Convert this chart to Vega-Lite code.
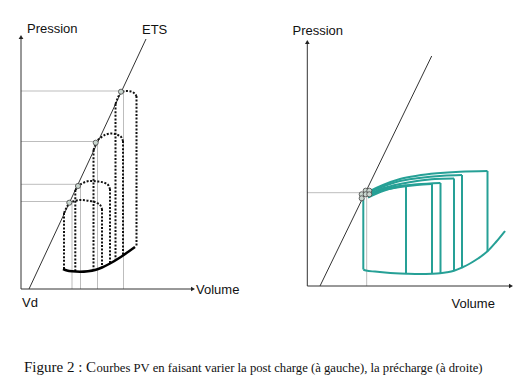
{
  "$schema": "https://vega.github.io/schema/vega-lite/v6.json",
  "width": 531,
  "height": 386,
  "padding": 0,
  "autosize": {"type": "fit", "contains": "padding"},
  "background": "white",
  "config": {"view": {"stroke": null}},
  "encoding": {
    "x": {"type": "quantitative", "scale": {"domain": [0, 531], "nice": false, "zero": false}, "axis": null},
    "y": {"type": "quantitative", "scale": {"domain": [0, 386], "reverse": true, "nice": false, "zero": false}, "axis": null}
  },
  "layer": [
    {
      "data": {"values": [
        {"x": 21, "y": 91, "x2": 121, "y2": 91},
        {"x": 21, "y": 141.5, "x2": 96, "y2": 141.5},
        {"x": 21, "y": 184.3, "x2": 78, "y2": 184.3},
        {"x": 21, "y": 201.5, "x2": 69, "y2": 201.5},
        {"x": 123.5, "y": 92, "x2": 123.5, "y2": 289},
        {"x": 97.5, "y": 143, "x2": 97.5, "y2": 289},
        {"x": 80.5, "y": 186, "x2": 80.5, "y2": 289},
        {"x": 72, "y": 203, "x2": 72, "y2": 289},
        {"x": 307.3, "y": 192.7, "x2": 362, "y2": 192.7},
        {"x": 366.7, "y": 192.7, "x2": 366.7, "y2": 286}
      ]},
      "mark": {"type": "rule", "color": "#bdbdbd", "strokeWidth": 1},
      "encoding": {"x": {"field": "x", "type": "quantitative"}, "y": {"field": "y", "type": "quantitative"}, "x2": {"field": "x2"}, "y2": {"field": "y2"}}
    },
    {
      "data": {"values": [
        {"x": 21, "y": 289, "x2": 21, "y2": 38},
        {"x": 21, "y": 289, "x2": 192, "y2": 289},
        {"x": 29, "y": 289, "x2": 146, "y2": 39},
        {"x": 307.3, "y": 286, "x2": 307.3, "y2": 43},
        {"x": 307.3, "y": 286, "x2": 510, "y2": 286},
        {"x": 320, "y": 286, "x2": 431.7, "y2": 56}
      ]},
      "mark": {"type": "rule", "color": "#333333", "strokeWidth": 1},
      "encoding": {"x": {"field": "x", "type": "quantitative"}, "y": {"field": "y", "type": "quantitative"}, "x2": {"field": "x2"}, "y2": {"field": "y2"}}
    },
    {
      "data": {"values": [
        {"x": 64, "y": 213, "y2": 269.5},
        {"x": 102, "y": 209, "y2": 267},
        {"x": 75.3, "y": 190, "y2": 271.6},
        {"x": 110, "y": 189, "y2": 263.5},
        {"x": 93.5, "y": 150, "y2": 270.3},
        {"x": 123, "y": 141, "y2": 256},
        {"x": 115.5, "y": 104, "y2": 259.5},
        {"x": 136.5, "y": 96, "y2": 246.5}
      ]},
      "mark": {"type": "rule", "color": "#111111", "strokeWidth": 2, "strokeDash": [2, 1.6]},
      "encoding": {"x": {"field": "x", "type": "quantitative"}, "y": {"field": "y", "type": "quantitative"}, "y2": {"field": "y2"}}
    },
    {
      "data": {"values": [
        {"id": "a1", "x": 64, "y": 213}, {"id": "a1", "x": 69.5, "y": 203.3}, {"id": "a1", "x": 75, "y": 201}, {"id": "a1", "x": 81, "y": 200}, {"id": "a1", "x": 90, "y": 201}, {"id": "a1", "x": 97, "y": 203}, {"id": "a1", "x": 100.5, "y": 205.5}, {"id": "a1", "x": 102, "y": 209},
        {"id": "a2", "x": 75.3, "y": 190}, {"id": "a2", "x": 78.5, "y": 186}, {"id": "a2", "x": 84, "y": 182.5}, {"id": "a2", "x": 90, "y": 181}, {"id": "a2", "x": 98, "y": 181.5}, {"id": "a2", "x": 105, "y": 183}, {"id": "a2", "x": 108.5, "y": 185.5}, {"id": "a2", "x": 110, "y": 189},
        {"id": "a3", "x": 93.5, "y": 150}, {"id": "a3", "x": 96, "y": 143}, {"id": "a3", "x": 101, "y": 137.5}, {"id": "a3", "x": 106, "y": 134.5}, {"id": "a3", "x": 112, "y": 133.5}, {"id": "a3", "x": 118, "y": 135}, {"id": "a3", "x": 121.5, "y": 137.5}, {"id": "a3", "x": 123, "y": 141},
        {"id": "a4", "x": 115.5, "y": 104}, {"id": "a4", "x": 121, "y": 92.5}, {"id": "a4", "x": 126, "y": 91}, {"id": "a4", "x": 131, "y": 91.5}, {"id": "a4", "x": 134.5, "y": 93.5}, {"id": "a4", "x": 136.5, "y": 96}
      ]},
      "mark": {"type": "line", "color": "#111111", "strokeWidth": 2, "strokeDash": [2, 1.6], "interpolate": "monotone"},
      "encoding": {"x": {"field": "x", "type": "quantitative"}, "y": {"field": "y", "type": "quantitative"}, "detail": {"field": "id"}}
    },
    {
      "data": {"values": [
        {"x": 63, "y": 269}, {"x": 67, "y": 270.5}, {"x": 72, "y": 271.3}, {"x": 80, "y": 271.7}, {"x": 88, "y": 271.2}, {"x": 95, "y": 270}, {"x": 102, "y": 267.5}, {"x": 110, "y": 263.5}, {"x": 120, "y": 257.5}, {"x": 128, "y": 252}, {"x": 135, "y": 247}
      ]},
      "mark": {"type": "line", "color": "#000000", "strokeWidth": 2.5, "interpolate": "monotone"},
      "encoding": {"x": {"field": "x", "type": "quantitative"}, "y": {"field": "y", "type": "quantitative"}}
    },
    {
      "data": {"values": [
        {"x": 363.3, "y": 198, "y2": 269.5},
        {"x": 406, "y": 185.5, "y2": 273.7},
        {"x": 432, "y": 184, "y2": 273.7},
        {"x": 440.5, "y": 183, "y2": 273.2},
        {"x": 454, "y": 178.5, "y2": 270.8},
        {"x": 462, "y": 175, "y2": 267.5},
        {"x": 487.5, "y": 171, "y2": 251.3}
      ]},
      "mark": {"type": "rule", "color": "#26a096", "strokeWidth": 2},
      "encoding": {"x": {"field": "x", "type": "quantitative"}, "y": {"field": "y", "type": "quantitative"}, "y2": {"field": "y2"}}
    },
    {
      "data": {"values": [
        {"id": "bottom", "x": 363.3, "y": 269.5}, {"id": "bottom", "x": 366, "y": 270.6}, {"id": "bottom", "x": 375, "y": 271.6}, {"id": "bottom", "x": 385, "y": 272.5}, {"id": "bottom", "x": 395, "y": 273.2}, {"id": "bottom", "x": 407, "y": 273.7}, {"id": "bottom", "x": 420, "y": 274}, {"id": "bottom", "x": 432, "y": 273.7}, {"id": "bottom", "x": 440, "y": 273.2}, {"id": "bottom", "x": 447, "y": 272.3}, {"id": "bottom", "x": 454, "y": 270.8}, {"id": "bottom", "x": 462, "y": 267.5}, {"id": "bottom", "x": 470, "y": 263.5}, {"id": "bottom", "x": 478, "y": 258.5}, {"id": "bottom", "x": 487.5, "y": 251.3}, {"id": "bottom", "x": 496, "y": 242}, {"id": "bottom", "x": 505, "y": 231},
        {"id": "F", "x": 368, "y": 192}, {"id": "F", "x": 383, "y": 185}, {"id": "F", "x": 400, "y": 179}, {"id": "F", "x": 417, "y": 175.7}, {"id": "F", "x": 437, "y": 173.3}, {"id": "F", "x": 460, "y": 171.7}, {"id": "F", "x": 487.5, "y": 171},
        {"id": "E", "x": 368, "y": 193}, {"id": "E", "x": 383, "y": 186.5}, {"id": "E", "x": 400, "y": 181}, {"id": "E", "x": 417, "y": 178.3}, {"id": "E", "x": 443, "y": 175.7}, {"id": "E", "x": 462, "y": 175},
        {"id": "D", "x": 368, "y": 194.5}, {"id": "D", "x": 383, "y": 188.3}, {"id": "D", "x": 400, "y": 184}, {"id": "D", "x": 417, "y": 181}, {"id": "D", "x": 435, "y": 179}, {"id": "D", "x": 454, "y": 178.5},
        {"id": "C", "x": 368, "y": 195.5}, {"id": "C", "x": 383, "y": 189.5}, {"id": "C", "x": 400, "y": 186}, {"id": "C", "x": 417, "y": 184.3}, {"id": "C", "x": 440.5, "y": 183},
        {"id": "B", "x": 368, "y": 196.5}, {"id": "B", "x": 383, "y": 190.3}, {"id": "B", "x": 400, "y": 187}, {"id": "B", "x": 417, "y": 185}, {"id": "B", "x": 432, "y": 184},
        {"id": "A", "x": 368, "y": 197.5}, {"id": "A", "x": 383, "y": 191}, {"id": "A", "x": 395, "y": 187.5}, {"id": "A", "x": 406, "y": 185.5}
      ]},
      "mark": {"type": "line", "color": "#26a096", "strokeWidth": 2, "interpolate": "monotone"},
      "encoding": {"x": {"field": "x", "type": "quantitative"}, "y": {"field": "y", "type": "quantitative"}, "detail": {"field": "id"}}
    },
    {
      "data": {"values": [
        {"x": 69.3, "y": 202.7}, {"x": 78, "y": 186}, {"x": 95.7, "y": 142.7}, {"x": 121, "y": 91.7},
        {"x": 365.7, "y": 190.7}, {"x": 369.3, "y": 190.7}, {"x": 361.7, "y": 194.3}, {"x": 365.7, "y": 194.3}, {"x": 369.3, "y": 194.3}, {"x": 361.7, "y": 198.3}
      ]},
      "mark": {"type": "point", "filled": true, "fill": "#c9d6cf", "stroke": "#444444", "strokeWidth": 0.8, "size": 26, "opacity": 1},
      "encoding": {"x": {"field": "x", "type": "quantitative"}, "y": {"field": "y", "type": "quantitative"}}
    },
    {
      "data": {"values": [
        {"x": 21, "y": 37, "shape": "triangle-up"},
        {"x": 193, "y": 289, "shape": "triangle-right"},
        {"x": 307.3, "y": 42, "shape": "triangle-up"},
        {"x": 511, "y": 286, "shape": "triangle-right"}
      ]},
      "mark": {"type": "point", "filled": true, "color": "#222222", "size": 22, "opacity": 1},
      "encoding": {"x": {"field": "x", "type": "quantitative"}, "y": {"field": "y", "type": "quantitative"}, "shape": {"field": "shape", "type": "nominal", "scale": null}}
    },
    {
      "data": {"values": [
        {"x": 27, "y": 33, "t": "Pression"},
        {"x": 142, "y": 33.5, "t": "ETS"},
        {"x": 196, "y": 293.5, "t": "Volume"},
        {"x": 22, "y": 307, "t": "Vd"},
        {"x": 292.5, "y": 35, "t": "Pression"},
        {"x": 451.5, "y": 308, "t": "Volume"}
      ]},
      "mark": {"type": "text", "font": "Liberation Sans", "fontSize": 13, "align": "left", "baseline": "alphabetic", "color": "#111111"},
      "encoding": {"x": {"field": "x", "type": "quantitative"}, "y": {"field": "y", "type": "quantitative"}, "text": {"field": "t"}}
    },
    {
      "data": {"values": [
        {"x": 24, "y": 372, "t": "Figure 2 : C", "s": 15},
        {"x": 96.5, "y": 372, "t": "ourbes PV en faisant varier la post charge (à gauche), la précharge (à droite)", "s": 12.7}
      ]},
      "mark": {"type": "text", "font": "Liberation Serif", "align": "left", "baseline": "alphabetic", "color": "#111111"},
      "encoding": {"x": {"field": "x", "type": "quantitative"}, "y": {"field": "y", "type": "quantitative"}, "text": {"field": "t"}, "size": {"field": "s", "type": "quantitative", "scale": null}}
    }
  ]
}
